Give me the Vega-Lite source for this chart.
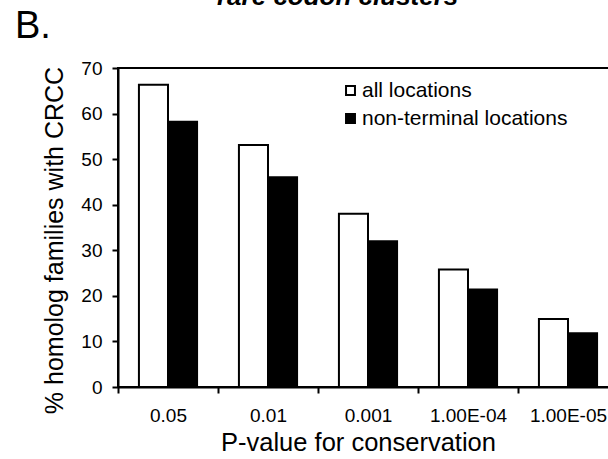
{
  "$schema": "https://vega.github.io/schema/vega-lite/v6.json",
  "width": 500,
  "height": 319,
  "autosize": {"type": "none"},
  "padding": {"left": 118, "top": 68, "right": -10, "bottom": 72},
  "background": "white",
  "config": {
    "font": "Liberation Sans",
    "view": {"stroke": "black", "strokeWidth": 2}
  },
  "title": {
    "text": "rare codon clusters",
    "subtitle": "B.",
    "anchor": "start",
    "frame": "group",
    "dx": -103,
    "font": "Liberation Sans",
    "fontSize": 26,
    "fontWeight": "bold",
    "fontStyle": "italic",
    "color": "black",
    "subtitleFont": "Liberation Sans",
    "subtitleFontSize": 38,
    "subtitleColor": "black",
    "subtitlePadding": -2,
    "offset": 13,
    "encoding": {"dx": {"value": 99}}
  },
  "data": {
    "values": [
      {"p": "0.05", "series": "all locations", "value": 66.3},
      {"p": "0.05", "series": "non-terminal locations", "value": 58.2},
      {"p": "0.01", "series": "all locations", "value": 53.1},
      {"p": "0.01", "series": "non-terminal locations", "value": 46.0},
      {"p": "0.001", "series": "all locations", "value": 38.0},
      {"p": "0.001", "series": "non-terminal locations", "value": 32.0},
      {"p": "1.00E-04", "series": "all locations", "value": 25.8},
      {"p": "1.00E-04", "series": "non-terminal locations", "value": 21.4},
      {"p": "1.00E-05", "series": "all locations", "value": 14.9},
      {"p": "1.00E-05", "series": "non-terminal locations", "value": 11.8}
    ]
  },
  "mark": {"type": "bar", "stroke": "black", "strokeWidth": 2},
  "encoding": {
    "x": {
      "field": "p",
      "type": "nominal",
      "sort": null,
      "scale": {"paddingInner": 0, "paddingOuter": 0},
      "axis": {
        "title": "P-value for conservation",
        "titleFontSize": 25.5,
        "titleFontWeight": "normal",
        "titleColor": "black",
        "titlePadding": 5,
        "titleX": 240,
        "labelAngle": 0,
        "labelFontSize": 19,
        "labelColor": "black",
        "labelPadding": 13,
        "tickBand": "extent",
        "tickSize": 6,
        "tickWidth": 2,
        "tickColor": "black",
        "domainColor": "black",
        "domainWidth": 2
      }
    },
    "xOffset": {
      "field": "series",
      "type": "nominal",
      "scale": {"paddingInner": 0, "paddingOuter": 0.72}
    },
    "y": {
      "field": "value",
      "type": "quantitative",
      "scale": {"domain": [0, 70], "nice": false},
      "axis": {
        "title": "% homolog families with CRCC",
        "titleFontSize": 25,
        "titleFontWeight": "normal",
        "titleColor": "black",
        "titlePadding": 13,
        "titleY": 172,
        "values": [0, 10, 20, 30, 40, 50, 60, 70],
        "grid": false,
        "labelFontSize": 19,
        "labelColor": "black",
        "labelPadding": 10,
        "tickSize": 6,
        "tickWidth": 2,
        "tickColor": "black",
        "domainColor": "black",
        "domainWidth": 2
      }
    },
    "fill": {
      "field": "series",
      "type": "nominal",
      "scale": {"domain": ["all locations", "non-terminal locations"], "range": ["white", "black"]},
      "legend": {
        "title": null,
        "orient": "none",
        "legendX": 222,
        "legendY": 12,
        "padding": 0,
        "labelFontSize": 21,
        "labelColor": "black",
        "labelFont": "Liberation Sans",
        "labelLimit": 0,
        "labelOffset": 1,
        "rowPadding": 6,
        "symbolType": "square",
        "symbolSize": 80,
        "symbolStrokeColor": "black",
        "symbolStrokeWidth": 2
      }
    }
  }
}
